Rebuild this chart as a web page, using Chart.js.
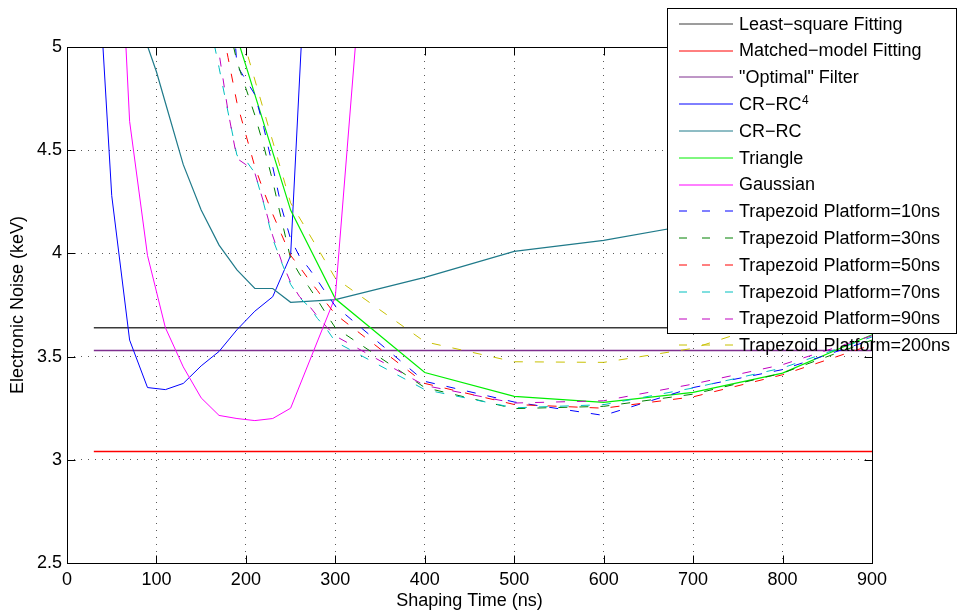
<!DOCTYPE html>
<html>
<head>
<meta charset="utf-8">
<script src="https://cdn.jsdelivr.net/npm/chart.js@4.4.1/dist/chart.umd.min.js"></script>
<style>html,body{margin:0;padding:0;background:#fff;}canvas{display:block;}</style>
</head>
<body>
<canvas id="c" width="962" height="615"></canvas>
<script>
// ---- tick labels ----
const xTicks = [0, 100, 200, 300, 400, 500, 600, 700, 800, 900];
const yTicks = [2.5, 3, 3.5, 4, 4.5, 5];

// ---- horizontal reference levels (keV) ----
const fitX = [30, 900];
const leastSquare = [3.64, 3.64];
const matchedModel = [3.04, 3.04];
const optimalFilter = [3.53, 3.53];

// ---- CR-RC^4 ----
const crrc4X = [30, 50, 70, 90, 110, 130, 150, 170, 190, 210, 230, 250, 270];
const crrc4 = [5.75, 4.28, 3.58, 3.35, 3.34, 3.37, 3.455, 3.525, 3.63, 3.72, 3.79, 3.99, 5.7];

// ---- CR-RC ----
const crrcX = [80, 100, 110, 130, 150, 170, 190, 210, 230, 250, 300, 400, 500, 600, 700, 800, 900];
const crrc = [5.13, 4.88, 4.73, 4.43, 4.21, 4.04, 3.92, 3.83, 3.83, 3.763, 3.776, 3.884, 4.01, 4.063, 4.14, 4.22, 4.30];

// ---- Triangle ----
const triX = [150, 200, 250, 300, 400, 500, 600, 700, 800, 900];
const triangle = [5.6, 4.91, 4.21, 3.78, 3.423, 3.307, 3.278, 3.327, 3.42, 3.606];

// ---- Gaussian ----
const gaussX = [50, 70, 90, 110, 130, 150, 170, 190, 210, 230, 250, 300, 350];
const gaussian = [6.4, 4.64, 3.99, 3.64, 3.45, 3.30, 3.215, 3.20, 3.19, 3.20, 3.25, 3.79, 6.5];

// ---- Trapezoid (platform 10..90 ns) ----
const trapX = [160, 170, 180, 190, 200, 210, 220, 230, 240, 250, 260, 270, 280, 290, 300, 400, 500, 600, 700, 800, 900];
const trap10 = [null, null, 5.5, 4.91, 4.84, 4.77, 4.61, 4.42, 4.22, 4.07, 3.985, 3.93, 3.87, 3.805, 3.745, 3.38, 3.28, 3.215, 3.35, 3.437, 3.582];
const trap30 = [null, 5.3, 5.12, 4.93, 4.80, 4.67, 4.52, 4.35, 4.16, 3.975, 3.90, 3.84, 3.775, 3.705, 3.64, 3.35, 3.248, 3.259, 3.318, 3.42, 3.58];
const trap50 = [null, 5.17, 4.95, 4.73, 4.575, 4.42, 4.30, 4.19, 4.09, 3.99, 3.935, 3.875, 3.82, 3.76, 3.705, 3.37, 3.268, 3.25, 3.305, 3.412, 3.557];
const trap70 = [5.11, 4.90, 4.685, 4.475, 4.45, 4.39, 4.24, 4.07, 3.955, 3.85, 3.785, 3.745, 3.685, 3.635, 3.572, 3.34, 3.252, 3.267, 3.348, 3.445, 3.595];
const trap90 = [5.25, 4.97, 4.69, 4.46, 4.43, 4.39, 4.245, 4.085, 3.96, 3.86, 3.79, 3.75, 3.695, 3.645, 3.60, 3.36, 3.275, 3.286, 3.367, 3.461, 3.601];

// ---- Trapezoid (platform 200 ns) ----
const trap200X = [190, 200, 250, 300, 400, 500, 600, 700, 800, 900];
const trap200 = [5.15, 4.99, 4.245, 3.88, 3.572, 3.475, 3.472, 3.54, 3.68, 3.85];

// ---- labels ----
const seriesLabels = [
  'Least\u2212square Fitting', 'Matched\u2212model Fitting', '"Optimal" Filter',
  'CR\u2212RC^4', 'CR\u2212RC', 'Triangle', 'Gaussian',
  'Trapezoid Platform=10ns', 'Trapezoid Platform=30ns', 'Trapezoid Platform=50ns',
  'Trapezoid Platform=70ns', 'Trapezoid Platform=90ns', 'Trapezoid Platform=200ns'
];

const pts = (xs, ys) => xs.map((x, i) => ({x: x, y: ys[i]}));
const DASH = [9, 12];

const defs = [
  [fitX, leastSquare, '#3a3a3a', null, 1.5],
  [fitX, matchedModel, '#ff0000', null, 1.6],
  [fitX, optimalFilter, '#7E2F8E', null, 1.5],
  [crrc4X, crrc4, '#0000ff', null, 1],
  [crrcX, crrc, '#1f7a8a', null, 1.2],
  [triX, triangle, '#00ee00', null, 1.2],
  [gaussX, gaussian, '#ff00ff', null, 1],
  [trapX, trap10, '#0000ff', DASH, 1],
  [trapX, trap30, '#008000', DASH, 1],
  [trapX, trap50, '#ff0000', DASH, 1],
  [trapX, trap70, '#00bfbf', DASH, 1],
  [trapX, trap90, '#bf00bf', DASH, 1],
  [trap200X, trap200, '#c8c000', DASH, 1]
];

const datasets = defs.map((d, i) => ({
  label: seriesLabels[i],
  data: pts(d[0], d[1]),
  borderColor: d[2],
  backgroundColor: d[2],
  borderDash: d[3] || [],
  borderWidth: d[4],
  pointRadius: 0,
  tension: 0,
  fill: false,
  order: defs.length - i
}));

const boxPlugin = {
  id: 'boxTicks',
  afterDatasetsDraw(chart) {
    const {ctx, chartArea: a, scales} = chart;
    ctx.save();
    ctx.strokeStyle = '#000';
    ctx.lineWidth = 1;
    ctx.setLineDash([]);
    const L = Math.round(a.left) + 0.5, R = Math.round(a.right) + 0.5;
    const T = Math.round(a.top) + 0.5, B = Math.round(a.bottom) + 0.5;
    ctx.strokeRect(L, T, R - L, B - T);
    const tl = 8;
    ctx.beginPath();
    xTicks.forEach(v => {
      const px = Math.round(scales.x.getPixelForValue(v)) + 0.5;
      ctx.moveTo(px, B); ctx.lineTo(px, B - tl);
      ctx.moveTo(px, T); ctx.lineTo(px, T + tl);
    });
    yTicks.forEach(v => {
      const py = Math.round(scales.y.getPixelForValue(v)) + 0.5;
      ctx.moveTo(L, py); ctx.lineTo(L + tl, py);
      ctx.moveTo(R, py); ctx.lineTo(R - tl, py);
    });
    ctx.stroke();
    ctx.restore();
  }
};

const legendPlugin = {
  id: 'customLegend',
  afterDraw(chart) {
    const {ctx} = chart;
    const bx = 667.5, by = 8.5, bw = 289, bh = 325;
    ctx.save();
    ctx.fillStyle = '#fff';
    ctx.fillRect(bx, by, bw, bh);
    ctx.strokeStyle = '#000';
    ctx.lineWidth = 1;
    ctx.setLineDash([]);
    ctx.strokeRect(bx, by, bw, bh);
    const font = "'Liberation Sans', Arial, sans-serif";
    chart.data.datasets.forEach((ds, i) => {
      const y = 23.7 + i * 26.8;
      ctx.strokeStyle = ds.borderColor;
      ctx.lineWidth = 1;
      ctx.setLineDash(ds.borderDash && ds.borderDash.length ? [8, 15] : []);
      ctx.beginPath();
      ctx.moveTo(679, Math.round(y));
      ctx.lineTo(733, Math.round(y));
      ctx.stroke();
      ctx.setLineDash([]);
      ctx.fillStyle = '#000';
      ctx.font = '18px ' + font;
      ctx.textAlign = 'left';
      ctx.textBaseline = 'middle';
      const parts = ds.label.split('^');
      ctx.fillText(parts[0], 739, y + 1);
      if (parts.length > 1) {
        const w = ctx.measureText(parts[0]).width;
        ctx.font = '12px ' + font;
        ctx.textBaseline = 'alphabetic';
        ctx.fillText(parts[1], 739 + w + 0.5, y - 0.5);
      }
    });
    ctx.restore();
  }
};

Chart.defaults.font.family = "'Liberation Sans', Arial, sans-serif";
Chart.defaults.font.size = 18;
Chart.defaults.color = '#000';

new Chart(document.getElementById('c'), {
  type: 'line',
  data: {datasets: datasets},
  options: {
    responsive: false,
    animation: false,
    events: [],
    layout: {padding: {top: 47, right: 90, bottom: 0, left: 0}},
    plugins: {legend: {display: false}, tooltip: {enabled: false}, title: {display: false}},
    scales: {
      x: {
        type: 'linear', min: 0, max: 900,
        afterBuildTicks: s => { s.ticks = xTicks.map(v => ({value: v})); },
        afterFit: s => { s.height = 52; },
        ticks: {padding: 6, color: '#000', maxRotation: 0, autoSkip: false, callback: v => String(v)},
        grid: {color: 'rgba(0,0,0,0.65)', lineWidth: 1, drawTicks: false},
        border: {display: false, dash: [1, 6]},
        title: {display: true, text: 'Shaping Time (ns)', color: '#000', padding: {top: 0, bottom: 3}}
      },
      y: {
        type: 'linear', min: 2.5, max: 5,
        afterBuildTicks: s => { s.ticks = yTicks.map(v => ({value: v})); },
        afterFit: s => { s.width = 67; },
        ticks: {padding: 5, color: '#000', autoSkip: false, callback: v => String(v)},
        grid: {color: 'rgba(0,0,0,0.65)', lineWidth: 1, drawTicks: false},
        border: {display: false, dash: [1, 6]},
        title: {display: true, text: 'Electronic Noise (keV)', color: '#000', padding: {top: 7, bottom: 0}}
      }
    }
  },
  plugins: [boxPlugin, legendPlugin]
});
</script>
</body>
</html>
